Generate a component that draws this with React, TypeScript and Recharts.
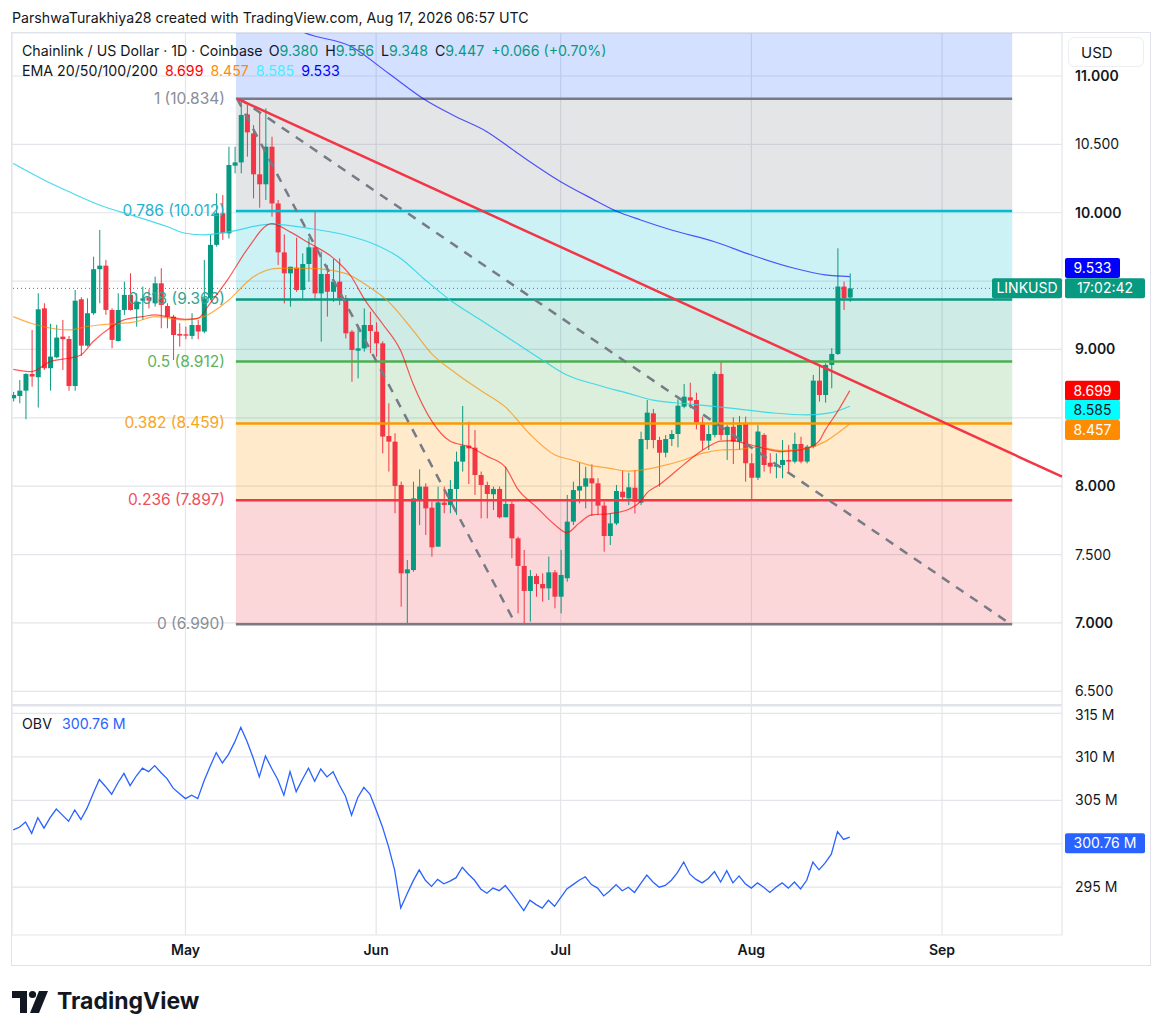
import React from 'react';
import {
  ComposedChart,
  Bar,
  Line,
  XAxis,
  YAxis,
  CartesianGrid,
  ReferenceArea,
  ReferenceLine,
} from 'recharts';

// daily candles, day 0 = Apr 3
const opens = [
  8.643, 8.660, 8.699, 8.821, 8.797, 9.301, 8.863, 8.943, 9.094, 9.077,
  8.733, 9.367, 9.028, 9.265, 9.587, 9.613, 9.289, 9.062, 9.289, 9.399,
  9.294, 9.357, 9.382, 9.338, 9.484, 9.318, 9.240, 9.114, 9.111, 9.099,
  9.179, 9.131, 9.374, 9.765, 9.996, 9.849, 10.344, 10.368, 10.719, 10.580,
  10.281, 10.208, 10.483, 10.068, 9.710, 9.557, 9.598, 9.435, 9.625, 9.747,
  9.410, 9.552, 9.422, 9.496, 9.374, 9.130, 8.991, 9.008, 9.179, 9.130,
  9.045, 8.367, 8.326, 8.009, 7.363, 7.387, 7.906, 7.997, 7.843, 7.558,
  7.880, 7.863, 7.980, 8.180, 8.297, 8.282, 8.082, 8.009, 7.941, 7.980,
  7.773, 7.870, 7.619, 7.417, 7.234, 7.343, 7.285, 7.253, 7.370, 7.192,
  7.327, 7.741, 7.968, 7.997, 8.058, 8.021, 7.858, 7.636, 7.728, 7.960,
  7.911, 7.989, 7.880, 8.338, 8.533, 8.338, 8.245, 8.345, 8.382, 8.582,
  8.650, 8.630, 8.465, 8.333, 8.375, 8.821, 8.375, 8.435, 8.326, 8.460,
  8.168, 8.062, 8.375, 8.172, 8.143, 8.155, 8.192, 8.180, 8.309, 8.180,
  8.289, 8.772, 8.667, 8.887, 8.967, 9.460, 9.380,
];
const highs = [
  8.69, 8.777, 8.826, 9.143, 9.411, 9.338, 9.187, 9.180, 9.216, 9.099,
  9.435, 9.382, 9.374, 9.679, 9.874, 9.655, 9.301, 9.411, 9.496, 9.557,
  9.411, 9.460, 9.44, 9.533, 9.594, 9.338, 9.253, 9.192, 9.167, 9.265,
  9.216, 9.655, 9.838, 10.142, 10.130, 10.483, 10.483, 10.834, 10.788, 10.641,
  10.739, 10.763, 10.556, 10.093, 9.842, 9.605, 9.817, 9.703, 9.817, 10.020,
  9.715, 9.617, 9.661, 9.666, 9.398, 9.142, 9.179, 9.300, 9.276, 9.198,
  9.06, 8.606, 8.387, 8.033, 7.460, 8.033, 8.124, 8.021, 7.887, 7.997,
  7.997, 8.046, 8.253, 8.587, 8.472, 8.411, 8.107, 8.033, 7.997, 7.997,
  8.143, 7.887, 7.631, 7.534, 7.387, 7.360, 7.363, 7.485, 7.387, 7.534,
  7.936, 8.033, 8.172, 8.143, 8.160, 8.058, 7.887, 7.801, 8.009, 8.114,
  8.099, 8.119, 8.399, 8.630, 8.565, 8.362, 8.374, 8.411, 8.635, 8.747,
  8.757, 8.684, 8.509, 8.448, 8.838, 8.911, 8.448, 8.504, 8.513, 8.509,
  8.240, 8.448, 8.387, 8.241, 8.241, 8.338, 8.302, 8.392, 8.362, 8.302,
  8.814, 8.887, 8.899, 9.009, 9.740, 9.496, 9.556,
];
const lows = [
  8.62, 8.607, 8.490, 8.728, 8.575, 8.850, 8.699, 8.936, 8.850, 8.699,
  8.699, 8.953, 9.021, 9.253, 9.338, 9.253, 9.009, 9.058, 9.253, 9.284,
  9.167, 9.216, 9.30, 9.313, 9.155, 9.155, 8.923, 9.021, 9.075, 9.075,
  9.075, 9.119, 9.362, 9.752, 9.801, 9.812, 10.288, 10.288, 10.410, 10.105,
  10.037, 10.093, 9.971, 9.618, 9.337, 9.313, 9.422, 9.374, 9.496, 9.374,
  9.057, 9.240, 9.349, 9.325, 9.081, 8.764, 8.789, 8.984, 8.972, 8.947,
  8.241, 8.107, 7.802, 7.119, 6.990, 7.375, 7.716, 7.643, 7.485, 7.558,
  7.802, 7.802, 7.790, 8.107, 8.016, 7.936, 7.765, 7.765, 7.826, 7.765,
  7.773, 7.473, 7.070, 6.995, 7.010, 7.192, 7.156, 7.168, 7.107, 7.070,
  7.302, 7.716, 7.875, 7.838, 7.782, 7.789, 7.521, 7.570, 7.716, 7.899,
  7.862, 7.801, 7.862, 8.270, 8.277, 7.997, 8.211, 8.294, 8.284, 8.570,
  8.570, 8.416, 8.265, 8.265, 8.357, 8.338, 8.192, 8.162, 8.265, 8.033,
  7.899, 8.045, 8.107, 8.094, 8.058, 8.058, 8.107, 8.167, 8.167, 8.167,
  8.277, 8.619, 8.611, 8.716, 8.960, 9.289, 9.348,
];
const closes = [
  8.667, 8.699, 8.821, 8.802, 9.294, 8.863, 8.948, 9.087, 9.075, 8.733,
  9.357, 9.028, 9.265, 9.587, 9.613, 9.289, 9.070, 9.289, 9.399, 9.289,
  9.350, 9.374, 9.357, 9.484, 9.326, 9.240, 9.106, 9.101, 9.101, 9.179,
  9.131, 9.374, 9.765, 9.996, 9.850, 10.349, 10.368, 10.715, 10.588, 10.281,
  10.208, 10.483, 10.068, 9.710, 9.557, 9.605, 9.435, 9.625, 9.747, 9.410,
  9.552, 9.422, 9.496, 9.374, 9.118, 8.996, 9.008, 9.179, 9.135, 9.045,
  8.363, 8.326, 8.002, 7.363, 7.392, 7.911, 7.997, 7.838, 7.553, 7.882,
  7.863, 7.980, 8.180, 8.297, 8.277, 8.082, 8.009, 7.943, 7.980, 7.773,
  7.870, 7.619, 7.417, 7.234, 7.343, 7.285, 7.253, 7.370, 7.192, 7.351,
  7.741, 7.972, 8.001, 8.058, 8.021, 7.858, 7.636, 7.728, 7.965, 7.919,
  7.992, 7.887, 8.345, 8.538, 8.338, 8.245, 8.345, 8.382, 8.589, 8.655,
  8.626, 8.465, 8.333, 8.382, 8.821, 8.375, 8.435, 8.326, 8.448, 8.168,
  8.062, 8.400, 8.155, 8.143, 8.155, 8.192, 8.180, 8.309, 8.180, 8.289,
  8.772, 8.667, 8.887, 8.967, 9.460, 9.374, 9.447,
];

// on balance volume, millions
const obv = [
  301.6, 301.9, 302.5, 301.2, 303.0, 301.8, 303.0, 304.0, 303.3, 302.6,
  303.9, 302.8, 304.1, 305.8, 307.4, 306.6, 305.7, 307.0, 308.1, 306.7,
  307.8, 308.7, 308.3, 309.0, 308.2, 307.5, 306.4, 305.8, 305.2, 305.6,
  305.2, 307.2, 308.9, 310.5, 309.3, 310.3, 311.7, 313.4, 311.8, 309.9,
  307.7, 310.1, 308.7, 307.4, 305.6, 308.3, 306.0, 307.4, 308.7, 307.2,
  308.6, 307.7, 308.3, 306.8, 305.5, 303.3, 305.3, 306.5, 305.7, 303.9,
  302.0, 299.7, 297.0, 292.6, 294.2, 295.7, 297.0, 295.8, 295.1, 295.9,
  295.4, 295.7, 296.1, 297.3, 296.5, 295.8, 294.8, 294.3, 294.9, 294.6,
  295.2, 294.3, 293.3, 292.3, 293.5, 293.0, 292.6, 293.5, 292.8, 293.8,
  294.8, 295.3, 295.8, 296.2, 295.3, 294.9, 294.0, 294.6, 295.3, 294.6,
  295.0, 294.4, 295.4, 296.4, 295.6, 295.0, 295.2, 295.8, 296.7, 297.9,
  296.5, 295.9, 295.5, 296.0, 296.8, 295.6, 296.9, 295.5, 296.3, 295.4,
  294.9, 295.5, 295.0, 294.4, 295.0, 295.5, 294.9, 295.6, 294.8, 295.8,
  297.9, 297.0, 297.8, 298.8, 301.4, 300.5, 300.76,
];

// EMA readings (day, value)
const ema20Days = [0, 3, 6, 9, 11, 13, 16, 18, 21, 23, 25, 28, 30, 32, 35, 38, 42, 45, 48, 52, 55, 57, 60, 63, 65, 68, 71, 74, 77, 80, 82, 85, 88, 90, 92, 94, 97, 100, 102, 103, 105, 108, 111, 113, 115, 117, 119, 121, 125, 129, 131, 132, 134, 136];
const ema20Vals = [8.855, 8.838, 8.911, 8.936, 8.96, 9.058, 9.167, 9.216, 9.24, 9.253, 9.24, 9.221, 9.228, 9.338, 9.52, 9.73, 9.92, 9.86, 9.78, 9.67, 9.53, 9.374, 9.19, 8.99, 8.75, 8.48, 8.33, 8.29, 8.22, 8.14, 7.98, 7.85, 7.72, 7.66, 7.73, 7.79, 7.80, 7.83, 7.89, 7.95, 8.01, 8.12, 8.23, 8.29, 8.33, 8.333, 8.313, 8.29, 8.253, 8.277, 8.33, 8.41, 8.545, 8.699];
const ema50Days = [0, 3, 9, 12, 14, 20, 23, 28, 31, 35, 39, 43, 48, 54, 57, 61, 65, 68, 72, 76, 80, 84, 88, 91, 94, 97, 100, 105, 109, 112, 115, 118, 121, 125, 129, 132, 134, 136];
const ema50Vals = [9.24, 9.19, 9.143, 9.168, 9.179, 9.204, 9.24, 9.216, 9.24, 9.36, 9.53, 9.593, 9.593, 9.557, 9.483, 9.35, 9.14, 8.97, 8.825, 8.70, 8.58, 8.38, 8.23, 8.19, 8.15, 8.131, 8.11, 8.143, 8.192, 8.24, 8.265, 8.27, 8.285, 8.26, 8.277, 8.326, 8.387, 8.457];
const ema100Days = [0, 5, 9, 14, 20, 25, 28, 31, 35, 42, 48, 54, 59, 63, 67, 71, 76, 81, 86, 90, 95, 100, 104, 110, 117, 123, 129, 133, 136];
const ema100Vals = [10.36, 10.24, 10.155, 10.057, 9.972, 9.899, 9.85, 9.838, 9.86, 9.917, 9.886, 9.837, 9.764, 9.666, 9.508, 9.362, 9.215, 9.069, 8.923, 8.813, 8.74, 8.679, 8.63, 8.601, 8.569, 8.538, 8.521, 8.538, 8.585];
const ema200Days = [44, 47, 55, 61, 67, 72, 77, 82, 89, 94, 98, 102, 107, 114, 120, 127, 132, 136];
const ema200Vals = [11.40, 11.324, 11.214, 11.02, 10.824, 10.702, 10.593, 10.435, 10.227, 10.105, 10.013, 9.947, 9.874, 9.788, 9.691, 9.594, 9.545, 9.533];

// fibonacci retracement
const fibRatios = ['1', '0.786', '0.618', '0.5', '0.382', '0.236', '0'];
const fibPrices = [10.834, 10.012, 9.366, 8.912, 8.459, 7.897, 6.990];
const fibColors = ['#787b86', '#00bcd4', '#089981', '#4caf50', '#ff9800', '#f23645', '#787b86'];
const fibLabelColors = ['#8a8d96', '#2ab0cf', '#35a38f', '#5bb45e', '#f5a623', '#ef4f5c', '#8a8d96'];
const fibStartDay = 36.2;
const fibEndDay = 162.4;

// drawn trend lines: [day, price] pairs
const redTrend = [[36.4, 10.834], [170.5, 8.07]];
const dashSteep = [[36.4, 10.834], [81.7, 6.99]];
const dashShallow = [[36.8, 10.834], [162.2, 6.99]];

const monthTicks = [28, 59, 89, 120, 151];
const monthNames = ['May', 'Jun', 'Jul', 'Aug', 'Sep'];
const priceTicks = [6.5, 7, 7.5, 8, 8.5, 9, 9.5, 10, 10.5, 11];
const priceShown = [6.5, 7, 7.5, 8, 9, 10, 10.5, 11];
const obvTicks = [295, 300, 305, 310, 315];
const obvShown = [295, 305, 310, 315];

const X_DOMAIN: [number, number] = [-0.2, 170.5];
const PRICE_DOMAIN: [number, number] = [6.4, 11.3144];
const OBV_DOMAIN: [number, number] = [289.5, 315.86];

const UP = '#089981';
const DOWN = '#f23645';
const FONT = 'Inter, "Noto Sans", sans-serif';

const toMap = (ds: number[], vs: number[]) => {
  const m = new Map<number, number>();
  ds.forEach((d, k) => m.set(d, vs[k]));
  return m;
};
const e20 = toMap(ema20Days, ema20Vals);
const e50 = toMap(ema50Days, ema50Vals);
const e100 = toMap(ema100Days, ema100Vals);
const e200 = toMap(ema200Days, ema200Vals);

const rows = opens.map((o, i) => ({
  day: i,
  open: o,
  high: highs[i],
  low: lows[i],
  close: closes[i],
  obv: obv[i],
  ema20: e20.get(i) ?? null,
  ema50: e50.get(i) ?? null,
  ema100: e100.get(i) ?? null,
  ema200: e200.get(i) ?? null,
}));

const Candle = (props: any) => {
  const { x, width, payload } = props;
  let { y, height } = props;
  if (!payload || y == null || height == null) return <g />;
  if (height < 0) {
    y = y + height;
    height = -height;
  }
  const { open, close, high, low } = payload;
  const color = close >= open ? UP : DOWN;
  const k = high > low ? height / (high - low) : 0;
  const yO = y + (high - open) * k;
  const yC = y + (high - close) * k;
  const cx = x + width / 2;
  const top = Math.min(yO, yC);
  const h = Math.max(Math.abs(yO - yC), 1);
  return (
    <g>
      <line x1={cx} x2={cx} y1={y} y2={y + height} stroke={color} strokeWidth={1} />
      <rect x={x} y={top} width={width} height={h} fill={color} />
    </g>
  );
};

const PriceTick = ({ x, y, payload }: any) => {
  const v = payload.value;
  if (!priceShown.includes(v)) return <g />;
  return (
    <text x={x} y={y + 5} fill="#131722" fontSize={14} fontFamily={FONT} fontWeight={Number.isInteger(v) ? 600 : 400}>
      {v.toFixed(3)}
    </text>
  );
};

const ObvTick = ({ x, y, payload }: any) => {
  const v = payload.value;
  if (!obvShown.includes(v)) return <g />;
  return (
    <text x={x} y={y + 5} fill="#131722" fontSize={14} fontFamily={FONT}>
      {v} M
    </text>
  );
};

const MonthTick = ({ x, y, payload }: any) => (
  <text x={x} y={y + 12} textAnchor="middle" fill="#131722" fontSize={14} fontWeight={600} fontFamily={FONT}>
    {monthNames[monthTicks.indexOf(payload.value)]}
  </text>
);

// value box on the price scale
const Tag = ({ viewBox, text, bg, fg = '#fff', dy = 0, w = 55 }: any) => {
  if (!viewBox) return null;
  const x = viewBox.x + viewBox.width + 3;
  const y = viewBox.y + dy;
  return (
    <g>
      <rect x={x} y={y - 10} width={w} height={20} rx={2} fill={bg} />
      <text x={x + w / 2} y={y + 5} textAnchor="middle" fill={fg} fontSize={14} fontFamily={FONT}>
        {text}
      </text>
    </g>
  );
};

const LastPriceTag = ({ viewBox }: any) => {
  if (!viewBox) return null;
  const right = viewBox.x + viewBox.width;
  const y = viewBox.y;
  return (
    <g>
      <rect x={right - 70} y={y - 10} width={70} height={20} rx={2} fill={UP} />
      <text x={right - 35} y={y + 5} textAnchor="middle" fill="#fff" fontSize={14} fontFamily={FONT}>LINKUSD</text>
      <rect x={right + 3} y={y - 10} width={80} height={20} rx={2} fill={UP} />
      <text x={right + 43} y={y + 5} textAnchor="middle" fill="#fff" fontSize={14} fontFamily={FONT}>17:02:42</text>
    </g>
  );
};

const FibLabel = ({ viewBox, text, color }: any) => {
  if (!viewBox) return null;
  return (
    <text x={viewBox.x - 11} y={viewBox.y + 5} textAnchor="end" fill={color} fontSize={15.5} fontFamily={FONT}>
      {text}
    </text>
  );
};

const seg = (p: number[][]) => [
  { x: p[0][0], y: p[0][1] },
  { x: p[1][0], y: p[1][1] },
];

const Logo = () => (
  <svg width={200} height={26} style={{ position: 'absolute', left: 12, top: 988 }}>
    <path d="M0 3 H15 V25 H8 V10 H0 Z" fill="#131722" />
    <circle cx={20.5} cy={6.5} r={3.6} fill="#131722" />
    <path d="M27 3 H36 L27 25 H18 Z" fill="#131722" />
    <text x={45} y={21} fontSize={23} fontWeight={700} fill="#131722" fontFamily={FONT}>
      TradingView
    </text>
  </svg>
);

export default function App() {
  return (
    <div
      style={{
        position: 'absolute',
        left: 0,
        top: 0,
        width: 1162,
        height: 1036,
        background: '#fff',
        overflow: 'hidden',
        fontFamily: FONT,
        color: '#131722',
      }}
    >
      <div style={{ position: 'absolute', left: 12, top: 9, fontSize: 14.2, lineHeight: '18px', whiteSpace: 'nowrap' }}>
        ParshwaTurakhiya28 created with TradingView.com, Aug 17, 2026 06:57 UTC
      </div>

      {/* chart frame */}
      <div style={{ position: 'absolute', left: 11, top: 32, width: 1138, height: 932, border: '1px solid #e0e3eb' }} />

      {/* price pane */}
      <div style={{ position: 'absolute', left: 0, top: 33 }}>
        <ComposedChart width={1162} height={672} data={rows} margin={{ top: 0, right: 12, left: 12, bottom: 0 }}>
          <CartesianGrid stroke="#e3e5ea" strokeWidth={1.2} />
          <XAxis dataKey="day" type="number" domain={X_DOMAIN} allowDataOverflow ticks={monthTicks} hide />
          <YAxis
            orientation="right"
            type="number"
            domain={PRICE_DOMAIN}
            allowDataOverflow
            ticks={priceTicks}
            width={88}
            axisLine={false}
            tickLine={false}
            tickSize={0}
            tickMargin={13}
            tick={<PriceTick />}
          />

          <ReferenceArea x1={fibStartDay} x2={fibEndDay} y1={fibPrices[0]} y2={PRICE_DOMAIN[1]} fill="#2962ff" fillOpacity={0.2} stroke="none" ifOverflow="hidden" />
          {fibPrices.slice(0, -1).map((p, k) => (
            <ReferenceArea
              key={'band' + k}
              x1={fibStartDay}
              x2={fibEndDay}
              y1={fibPrices[k + 1]}
              y2={p}
              fill={fibColors[k]}
              fillOpacity={0.2}
              stroke="none"
            />
          ))}
          {fibPrices.map((p, k) => (
            <ReferenceLine
              key={'fib' + k}
              segment={[{ x: fibStartDay, y: p }, { x: fibEndDay, y: p }]}
              stroke={fibColors[k]}
              strokeWidth={2.5}
              label={<FibLabel text={`${fibRatios[k]} (${p.toFixed(3)})`} color={fibLabelColors[k]} />}
            />
          ))}

          <ReferenceLine y={closes[closes.length - 1]} stroke={UP} strokeDasharray="1 3" strokeWidth={1} label={<LastPriceTag />} />

          <Bar dataKey={(d: any) => [d.low, d.high]} barSize={5} shape={<Candle />} isAnimationActive={false} />

          <Line dataKey="ema200" type="monotone" stroke="#0000ff" strokeOpacity={0.65} strokeWidth={1.2} dot={false} connectNulls isAnimationActive={false} />
          <Line dataKey="ema100" type="monotone" stroke="#2ad4e6" strokeOpacity={0.85} strokeWidth={1.2} dot={false} connectNulls isAnimationActive={false} />
          <Line dataKey="ema50" type="monotone" stroke="#ff8c00" strokeOpacity={0.7} strokeWidth={1.2} dot={false} connectNulls isAnimationActive={false} />
          <Line dataKey="ema20" type="monotone" stroke="#ff0000" strokeOpacity={0.65} strokeWidth={1.2} dot={false} connectNulls isAnimationActive={false} />

          <ReferenceLine segment={seg(dashSteep)} stroke="#787b86" strokeWidth={2.5} strokeDasharray="9 8" ifOverflow="visible" />
          <ReferenceLine segment={seg(dashShallow)} stroke="#787b86" strokeWidth={2.5} strokeDasharray="9 8" ifOverflow="visible" />
          <ReferenceLine segment={seg(redTrend)} stroke="#f23645" strokeWidth={2.5} ifOverflow="visible" />

          <ReferenceLine y={ema200Vals[ema200Vals.length - 1]} stroke="none" label={<Tag text="9.533" bg="#0000ff" dy={-8.6} />} />
          <ReferenceLine y={ema20Vals[ema20Vals.length - 1]} stroke="none" label={<Tag text="8.699" bg="#ff0000" />} />
          <ReferenceLine y={ema100Vals[ema100Vals.length - 1]} stroke="none" label={<Tag text="8.585" bg="#00ffff" fg="#131722" dy={3.7} />} />
          <ReferenceLine y={ema50Vals[ema50Vals.length - 1]} stroke="none" label={<Tag text="8.457" bg="#ff8c00" dy={6.2} />} />
        </ComposedChart>
      </div>

      {/* legend */}
      <div style={{ position: 'absolute', left: 22, top: 42, fontSize: 14.2, lineHeight: '18px', whiteSpace: 'nowrap' }}>
        Chainlink / US Dollar · 1D · Coinbase
        <span style={{ marginLeft: 6 }}>O</span><span style={{ color: UP }}>9.380</span>
        <span style={{ marginLeft: 7 }}>H</span><span style={{ color: UP }}>9.556</span>
        <span style={{ marginLeft: 7 }}>L</span><span style={{ color: UP }}>9.348</span>
        <span style={{ marginLeft: 7 }}>C</span><span style={{ color: UP }}>9.447</span>
        <span style={{ marginLeft: 7, color: UP }}>+0.066 (+0.70%)</span>
      </div>
      <div style={{ position: 'absolute', left: 22, top: 62, fontSize: 14.2, lineHeight: '18px', whiteSpace: 'nowrap' }}>
        EMA 20/50/100/200
        <span style={{ marginLeft: 7, color: '#ff0000' }}>8.699</span>
        <span style={{ marginLeft: 7, color: '#ff8c00' }}>8.457</span>
        <span style={{ marginLeft: 7, color: '#3ff0ff' }}>8.585</span>
        <span style={{ marginLeft: 7, color: '#0000ff' }}>9.533</span>
      </div>

      {/* currency button */}
      <div
        style={{
          position: 'absolute',
          left: 1068,
          top: 37,
          width: 76,
          height: 30,
          border: '1px solid #eceef2',
          borderRadius: 6,
          background: '#fff',
          fontSize: 15,
          lineHeight: '30px',
          paddingLeft: 12,
          boxSizing: 'border-box',
        }}
      >
        USD
      </div>

      {/* OBV pane */}
      <div style={{ position: 'absolute', left: 12, top: 704, width: 1050, height: 2, background: '#e0e3eb' }} />
      <div style={{ position: 'absolute', left: 0, top: 706 }}>
        <ComposedChart width={1162} height={259} data={rows} margin={{ top: 0, right: 12, left: 12, bottom: 0 }}>
          <CartesianGrid stroke="#e3e5ea" strokeWidth={1.2} />
          <XAxis
            dataKey="day"
            type="number"
            domain={X_DOMAIN}
            allowDataOverflow
            ticks={monthTicks}
            height={30}
            axisLine={false}
            tickLine={false}
            tick={<MonthTick />}
          />
          <YAxis
            orientation="right"
            type="number"
            domain={OBV_DOMAIN}
            allowDataOverflow
            ticks={obvTicks}
            width={88}
            axisLine={false}
            tickLine={false}
            tickSize={0}
            tickMargin={13}
            tick={<ObvTick />}
          />
          <Line dataKey="obv" type="linear" stroke="#2962ff" strokeWidth={1.3} dot={false} isAnimationActive={false} />
          <ReferenceLine y={obv[obv.length - 1]} stroke="none" label={<Tag text="300.76 M" bg="#2962ff" dy={6} w={80} />} />
        </ComposedChart>
      </div>
      <div style={{ position: 'absolute', left: 22, top: 715, fontSize: 14.2, lineHeight: '18px', whiteSpace: 'nowrap' }}>
        OBV <span style={{ marginLeft: 6, color: '#2962ff' }}>300.76 M</span>
      </div>

      <Logo />
    </div>
  );
}
